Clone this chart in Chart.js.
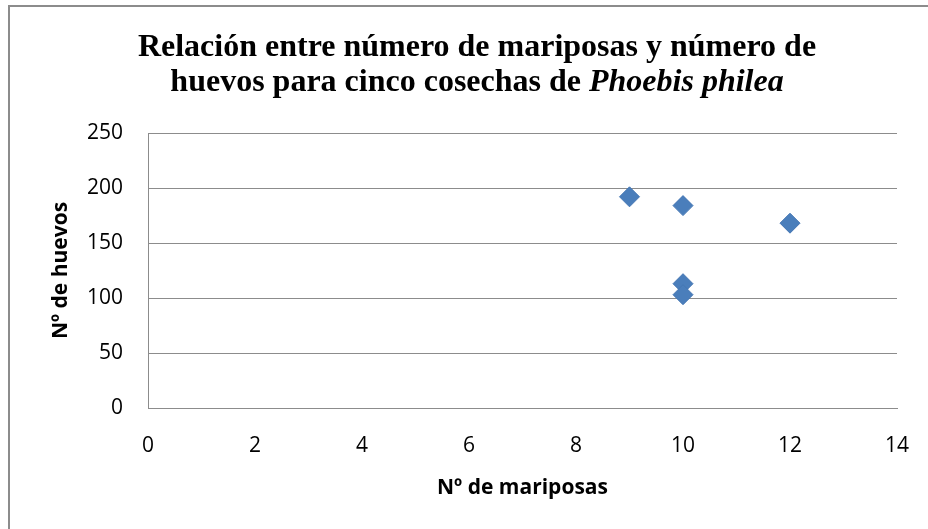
<!DOCTYPE html>
<html>
<head>
<meta charset="utf-8">
<script src="https://cdn.jsdelivr.net/npm/chart.js@4.4.0/dist/chart.umd.min.js"></script>
<style>
  body { margin: 0; background: #fff; }
  canvas { display: block; }
</style>
</head>
<body>
<canvas id="myChart" width="928" height="529"></canvas>
<script>
// datos
const mariposas = [9, 10, 12, 10, 10];
const huevos = [192, 184, 168, 113, 103];
const xTicks = [0, 2, 4, 6, 8, 10, 12, 14];
const yTicks = [0, 50, 100, 150, 200, 250];

const titleLine1 = "Relación entre número de mariposas y número de";
const titleLine2a = "huevos para cinco cosechas de ";
const titleLine2b = "Phoebis philea";

// marco y título con cursiva (el plugin de título no admite fuentes mixtas)
const frameAndTitle = {
  id: "frameAndTitle",
  beforeDraw(chart) {
    const c = chart.ctx;
    c.save();
    c.fillStyle = "#fff";
    c.fillRect(0, 0, chart.width, chart.height);
    c.strokeStyle = "#8c8c8c";
    c.lineWidth = 2;
    c.beginPath();
    c.moveTo(9, 529);
    c.lineTo(9, 6);
    c.lineTo(928, 6);
    c.stroke();
    c.restore();
  },
  afterDraw(chart) {
    const c = chart.ctx;
    const cx = 477;
    const f = "32px 'Liberation Serif'";
    c.save();
    c.fillStyle = "#000";
    c.textBaseline = "alphabetic";
    c.font = "bold " + f;
    const w1 = c.measureText(titleLine1).width;
    c.fillText(titleLine1, cx - w1 / 2, 56);
    const wa = c.measureText(titleLine2a).width;
    c.font = "bold italic " + f;
    const wb = c.measureText(titleLine2b).width;
    const start = cx - (wa + wb) / 2;
    c.font = "bold " + f;
    c.fillText(titleLine2a, start, 91);
    c.font = "bold italic " + f;
    c.fillText(titleLine2b, start + wa, 91);
    c.restore();
  },
};

const ctx = document.getElementById("myChart").getContext("2d");
const myChart = new Chart(ctx, {
  type: "scatter",
  data: {
    datasets: [
      {
        data: mariposas.map((m, i) => ({ x: m, y: huevos[i] })),
        pointStyle: "rectRot",
        pointRadius: 10,
        pointHoverRadius: 10,
        backgroundColor: "#4a7ebb",
        borderColor: "#4577b4",
        borderWidth: 1,
      },
    ],
  },
  options: {
    responsive: false,
    animation: false,
    layout: { padding: { top: 133, right: 31, left: 6, bottom: 24 } },
    plugins: {
      legend: { display: false },
      tooltip: { enabled: false },
      title: { display: false },
    },
    scales: {
      x: {
        type: "linear",
        min: 0,
        max: 14,
        afterBuildTicks: (s) => { s.ticks = xTicks.map((v) => ({ value: v })); },
        afterFit: (s) => {
          s.height = 97;
          s.paddingLeft = 0;
          s.paddingRight = 0;
        },
        grid: { display: false, drawTicks: false },
        border: { color: "#8c8c8c", width: 1 },
        ticks: {
          color: "#000",
          padding: 25,
          font: { family: "'Open Sans'", size: 21 },
        },
        title: {
          display: true,
          text: "Nº de mariposas",
          color: "#000",
          font: { family: "'Open Sans'", size: 21, weight: "bold" },
          padding: { top: 10 },
        },
      },
      y: {
        min: 0,
        max: 250,
        afterBuildTicks: (s) => { s.ticks = yTicks.map((v) => ({ value: v })); },
        afterFit: (s) => {
          s.width = 142;
          s.paddingTop = 0;
          s.paddingBottom = 0;
        },
        grid: { color: "#8c8c8c", drawTicks: false },
        border: { color: "#8c8c8c", width: 1 },
        ticks: {
          color: "#000",
          padding: 25,
          font: { family: "'Open Sans'", size: 21 },
        },
        title: {
          display: true,
          text: "Nº de huevos",
          color: "#000",
          font: { family: "'Open Sans'", size: 21, weight: "bold" },
          padding: { top: 42 },
        },
      },
    },
  },
  plugins: [frameAndTitle],
});
</script>
</body>
</html>
